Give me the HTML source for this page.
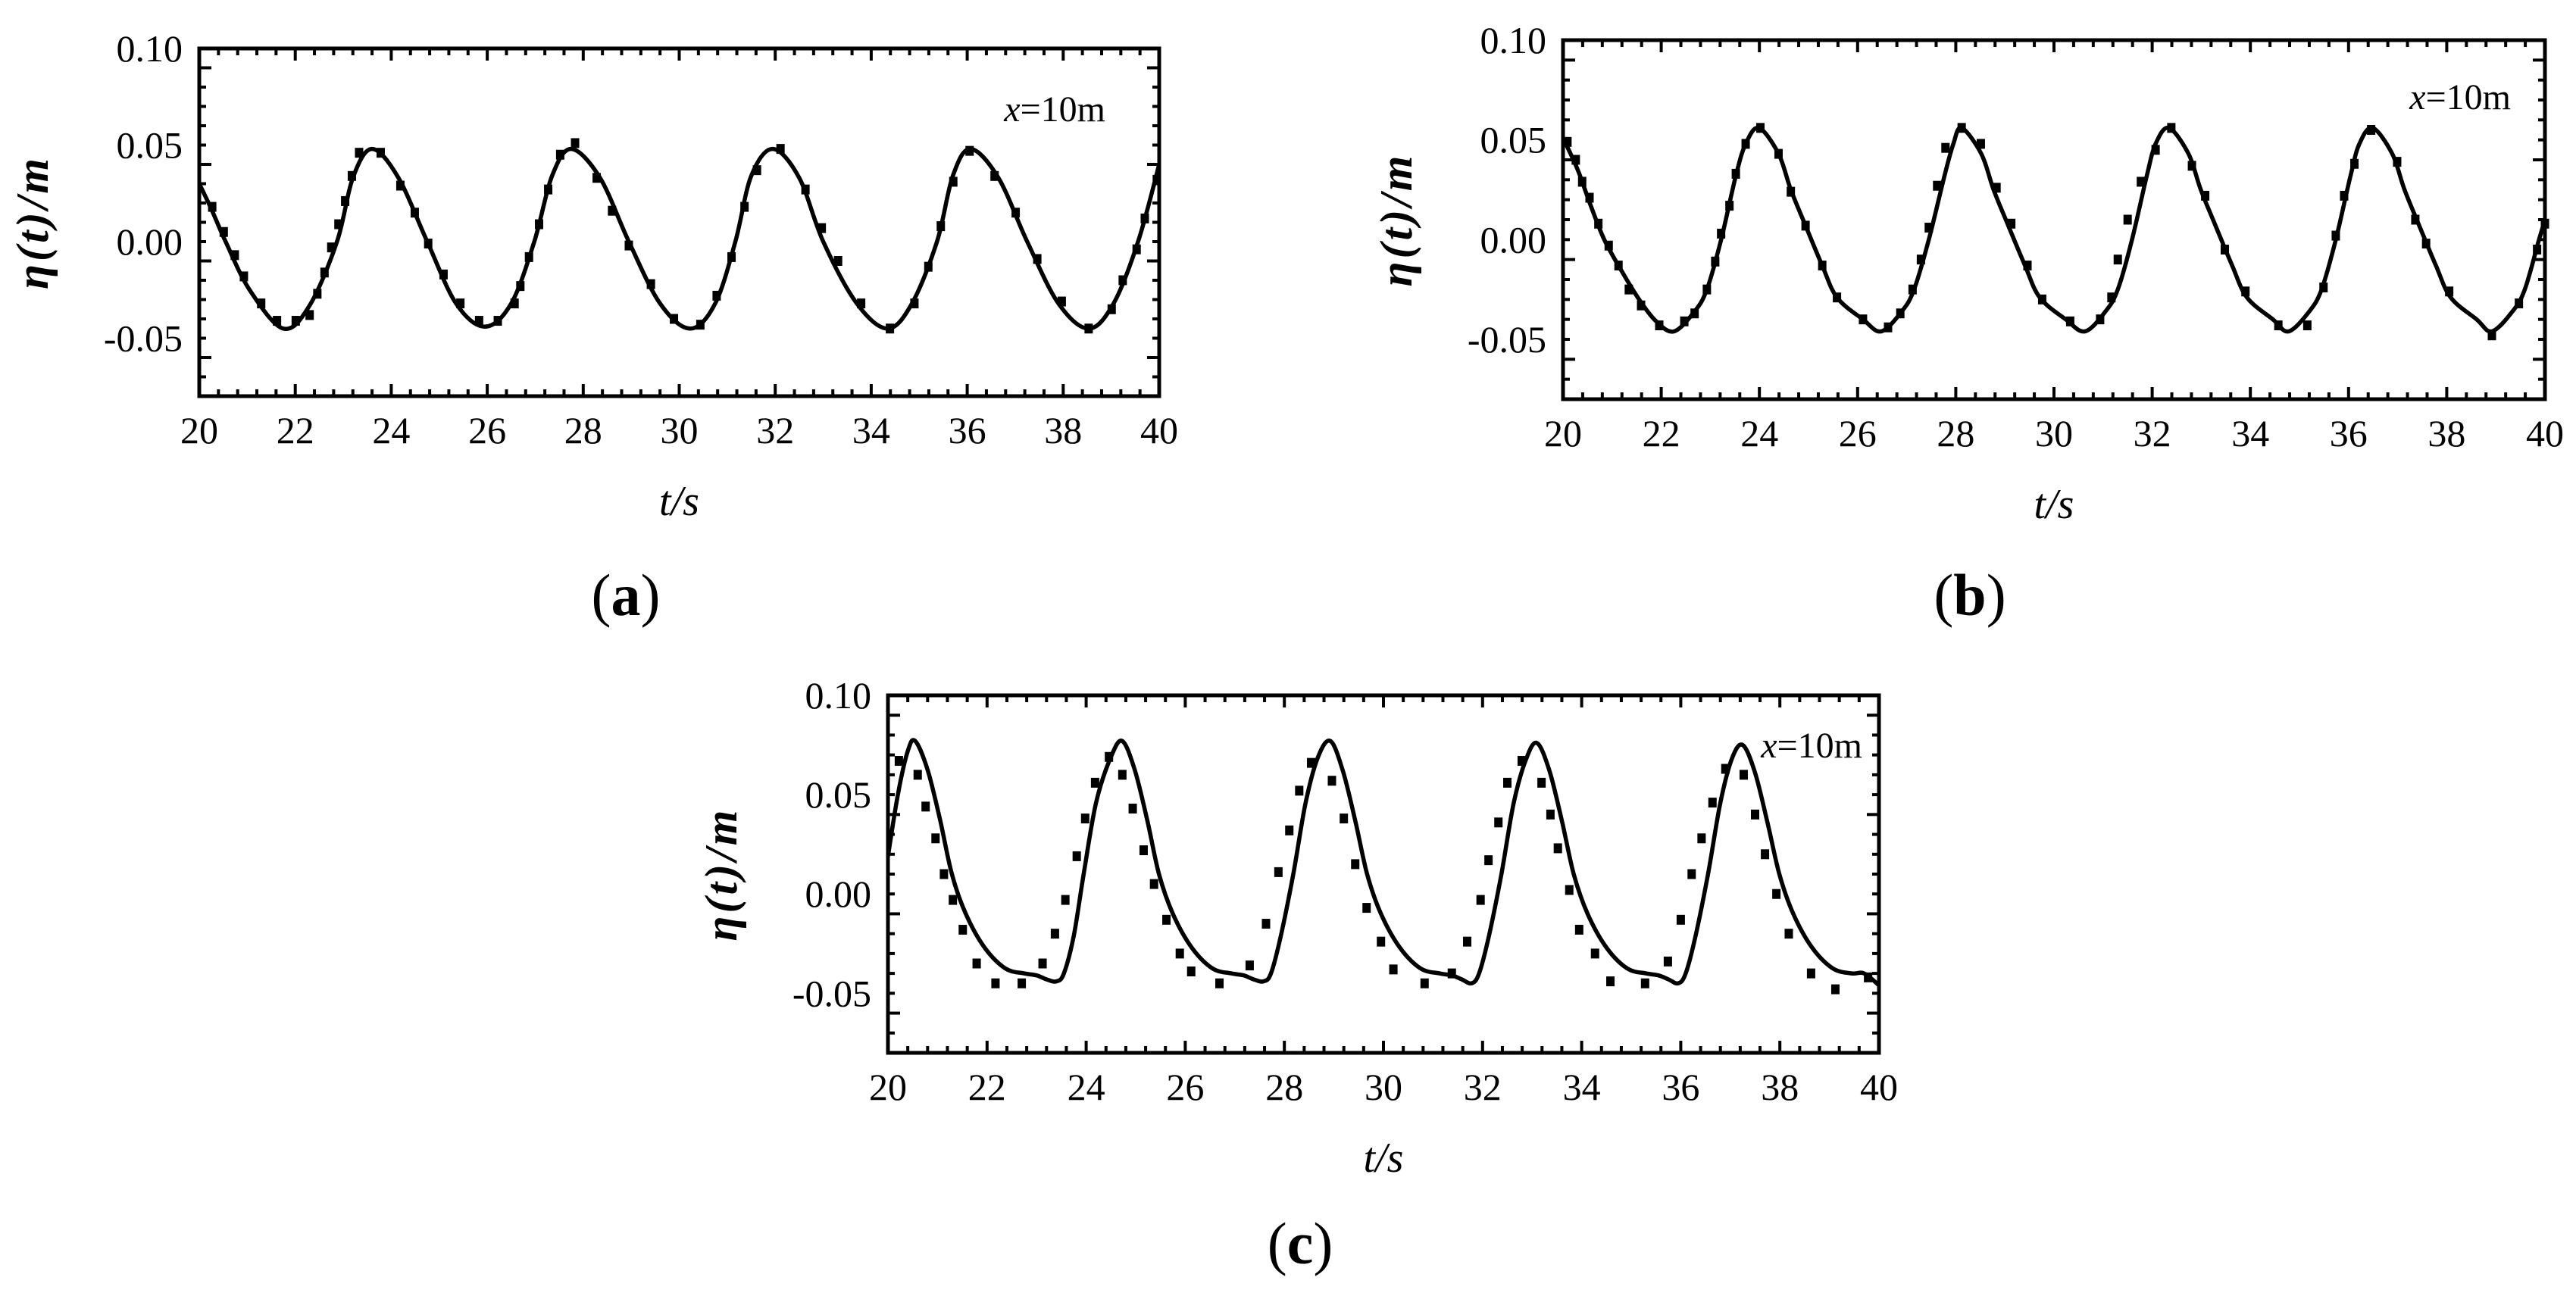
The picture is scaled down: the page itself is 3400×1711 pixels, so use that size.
<!DOCTYPE html>
<html><head><meta charset="utf-8">
<style>
html,body{margin:0;padding:0;background:#fff;}
svg{display:block;}
text{font-family:"Liberation Serif","DejaVu Serif",serif;fill:#000;}
</style></head>
<body>
<svg id="fig" width="3400" height="1711" viewBox="0 0 3400 1711" xmlns="http://www.w3.org/2000/svg"></svg>
<script>
// ---------- data ----------
const xTicks = [20,22,24,26,28,30,32,34,36,38,40];
const yTicks = [0.10,0.05,0.00,-0.05];
const yTickLabels = ["0.10","0.05","0.00","-0.05"];

// panel (a)
const aLineT = [20.0,20.25,20.55,21.05,21.75,22.3,22.87,23.2,23.6,24.15,24.75,25.35,25.95,26.5,26.98,27.35,27.75,28.35,28.95,29.6,30.23,30.75,31.17,31.5,31.95,32.5,33.0,33.7,34.34,34.85,35.37,35.7,36.07,36.65,37.25,37.9,38.53,39.05,39.56,40.0];
const aLineV = [0.030,0.017,0.0,-0.025,-0.045,-0.033,0.0,0.033,0.048,0.033,0.0,-0.032,-0.044,-0.032,0.0,0.034,0.048,0.033,0.0,-0.032,-0.045,-0.032,0.0,0.034,0.048,0.033,0.0,-0.032,-0.045,-0.032,0.0,0.034,0.048,0.033,0.0,-0.032,-0.045,-0.032,0.0,0.040];
const aMarkT = [20.27,20.51,20.74,20.93,21.29,21.62,22.01,22.30,22.46,22.61,22.75,22.90,23.04,23.18,23.33,23.78,24.19,24.49,24.77,25.09,25.44,25.83,26.22,26.57,26.69,26.87,27.08,27.27,27.52,27.83,28.28,28.60,28.95,29.41,29.89,30.44,30.78,31.09,31.36,31.62,32.11,32.63,32.97,33.31,33.79,34.39,34.90,35.19,35.45,35.71,36.05,36.57,37.01,37.46,37.97,38.53,39.01,39.24,39.53,39.70,39.95];
const aMarkV = [0.018,0.005,-0.007,-0.018,-0.032,-0.041,-0.041,-0.038,-0.027,-0.016,-0.003,0.009,0.021,0.034,0.046,0.046,0.029,0.015,-0.001,-0.017,-0.032,-0.041,-0.041,-0.032,-0.023,-0.008,0.009,0.027,0.045,0.051,0.033,0.016,-0.002,-0.022,-0.040,-0.043,-0.028,-0.008,0.018,0.037,0.048,0.027,0.007,-0.010,-0.032,-0.045,-0.032,-0.013,0.008,0.031,0.047,0.034,0.015,-0.009,-0.031,-0.045,-0.035,-0.020,-0.004,0.012,0.032];

// panel (b)
const bLineT = [20.0,20.3,20.55,20.84,21.2,21.55,21.9,22.26,22.68,22.93,23.22,23.52,23.72,23.99,24.39,24.64,24.94,25.28,25.58,26.11,26.48,26.9,27.15,27.45,27.77,27.95,28.12,28.52,28.77,29.07,29.41,29.71,30.24,30.63,31.05,31.3,31.59,31.89,32.07,32.34,32.74,32.99,33.29,33.63,33.93,34.46,34.78,35.2,35.45,35.74,36.04,36.22,36.49,36.89,37.14,37.44,37.78,38.08,38.61,38.92,39.34,39.59,39.88,40.0];
const bLineV = [0.051,0.035,0.018,0.0,-0.016,-0.030,-0.041,-0.046,-0.036,-0.025,0.0,0.032,0.048,0.056,0.043,0.025,0.007,-0.013,-0.029,-0.040,-0.046,-0.036,-0.025,0.0,0.032,0.048,0.056,0.043,0.025,0.007,-0.013,-0.029,-0.040,-0.046,-0.036,-0.025,0.0,0.032,0.048,0.056,0.043,0.025,0.007,-0.013,-0.029,-0.040,-0.046,-0.036,-0.025,0.0,0.032,0.048,0.056,0.043,0.025,0.007,-0.013,-0.029,-0.040,-0.046,-0.036,-0.025,0.0,0.010];
const bMarkT = [20.09,20.26,20.39,20.54,20.72,20.93,21.13,21.34,21.59,21.96,22.47,22.68,22.93,23.10,23.22,23.39,23.52,23.72,24.02,24.39,24.64,24.94,25.28,25.58,26.11,26.62,26.87,27.12,27.29,27.45,27.62,27.79,28.12,28.51,28.83,29.13,29.46,29.76,30.33,30.94,31.17,31.30,31.50,31.77,32.07,32.39,32.81,33.08,33.48,33.90,34.57,35.16,35.49,35.74,35.91,36.12,36.46,36.99,37.36,37.58,38.05,38.92,39.47,39.84,40.0];
const bMarkV = [0.049,0.040,0.029,0.021,0.008,-0.003,-0.013,-0.025,-0.033,-0.043,-0.041,-0.037,-0.025,-0.011,0.003,0.017,0.033,0.048,0.056,0.043,0.024,0.007,-0.013,-0.029,-0.040,-0.044,-0.037,-0.025,-0.010,0.006,0.027,0.046,0.056,0.048,0.026,0.008,-0.013,-0.030,-0.041,-0.040,-0.029,-0.010,0.010,0.029,0.045,0.056,0.037,0.022,-0.005,-0.026,-0.043,-0.043,-0.024,0.002,0.022,0.038,0.055,0.039,0.010,-0.002,-0.026,-0.048,-0.032,-0.005,0.008];

// panel (c)
const cLineT = [20.0,20.2,20.4,20.55,20.8,21.05,21.29,21.57,21.95,22.37,22.75,23.0,23.2,23.4,23.55,23.75,23.95,24.2,24.5,24.73,24.98,25.23,25.47,25.75,26.13,26.55,26.93,27.18,27.38,27.58,27.73,27.93,28.18,28.43,28.68,28.93,29.18,29.43,29.67,29.95,30.33,30.75,31.13,31.38,31.58,31.78,31.93,32.13,32.38,32.63,32.88,33.1,33.35,33.6,33.84,34.12,34.5,34.92,35.3,35.55,35.75,35.95,36.1,36.3,36.55,36.8,37.03,37.25,37.5,37.75,37.99,38.27,38.65,39.07,39.45,39.7,40.0];
const cLineV = [0.019,0.050,0.072,0.077,0.0625,0.0375,0.010,-0.010,-0.027,-0.0375,-0.040,-0.041,-0.043,-0.044,-0.040,-0.021,0.010,0.046,0.069,0.077,0.0625,0.0375,0.010,-0.010,-0.027,-0.0375,-0.040,-0.041,-0.043,-0.044,-0.040,-0.021,0.010,0.046,0.069,0.077,0.062,0.037,0.010,-0.010,-0.027,-0.0375,-0.040,-0.041,-0.043,-0.045,-0.040,-0.021,0.010,0.046,0.068,0.076,0.062,0.037,0.010,-0.010,-0.027,-0.0375,-0.040,-0.041,-0.043,-0.045,-0.040,-0.021,0.010,0.046,0.068,0.075,0.061,0.036,0.010,-0.010,-0.027,-0.0375,-0.040,-0.040,-0.046];
const cMarkT = [20.22,20.60,20.76,20.96,21.13,21.31,21.51,21.79,22.17,22.70,23.12,23.37,23.58,23.81,23.98,24.18,24.46,24.73,24.94,25.16,25.37,25.62,25.89,26.12,26.69,27.30,27.63,27.88,28.10,28.30,28.54,28.96,29.20,29.43,29.66,29.95,30.20,30.83,31.38,31.69,31.96,32.12,32.32,32.50,32.79,33.19,33.37,33.52,33.75,33.95,34.27,34.58,35.28,35.74,36.00,36.22,36.42,36.64,36.90,37.27,37.50,37.70,37.93,38.18,38.63,39.12,39.78];
const cMarkV = [0.067,0.060,0.044,0.028,0.010,-0.003,-0.018,-0.035,-0.045,-0.045,-0.035,-0.020,-0.003,0.019,0.038,0.056,0.069,0.060,0.043,0.022,0.005,-0.013,-0.030,-0.039,-0.045,-0.036,-0.015,0.011,0.032,0.052,0.066,0.057,0.038,0.015,-0.007,-0.024,-0.038,-0.045,-0.040,-0.024,-0.003,0.017,0.036,0.056,0.067,0.056,0.040,0.023,0.002,-0.018,-0.030,-0.044,-0.045,-0.034,-0.013,0.010,0.028,0.046,0.063,0.060,0.040,0.020,0.000,-0.020,-0.040,-0.048,-0.042];

// ---------- drawing ----------
const NS = "http://www.w3.org/2000/svg";
const fig = document.getElementById('fig');
function mk(tag, attrs, parent){
  const e = document.createElementNS(NS, tag);
  for (const k in attrs) e.setAttribute(k, attrs[k]);
  (parent||fig).appendChild(e);
  return e;
}
function catmull(pts){
  let d = "M" + pts[0][0].toFixed(1) + "," + pts[0][1].toFixed(1);
  for (let i=0;i<pts.length-1;i++){
    const p0=pts[i-1]||pts[i], p1=pts[i], p2=pts[i+1], p3=pts[i+2]||pts[i+1];
    const c1x=p1[0]+(p2[0]-p0[0])/6, c1y=p1[1]+(p2[1]-p0[1])/6;
    const c2x=p2[0]-(p3[0]-p1[0])/6, c2y=p2[1]-(p3[1]-p1[1])/6;
    d += " C"+c1x.toFixed(1)+","+c1y.toFixed(1)+" "+c2x.toFixed(1)+","+c2y.toFixed(1)+" "+p2[0].toFixed(1)+","+p2[1].toFixed(1);
  }
  return d;
}
function panel(id, L, R, T, B, lineT, lineV, markT, markV, ann, label){
  const g = mk('g', {});
  
  
  const xs = t => L + (t-20)/20*(R-L);
  const ys = v => T + (0.10 - v)/0.18*(B-T);
  const cp = mk('clipPath', {id:'clip-'+id}, g);
  mk('rect', {x:L, y:T, width:R-L, height:B-T}, cp);
  for (let k=0;k<=50;k++){
    const t = 20 + k*0.4, x = xs(t), major = (k%5===0), len = major?16:9;
    const tb = mk('line', {x1:x, y1:B, x2:x, y2:B-len, stroke:'#000', 'stroke-width':4}, g);
    
    
    const tt = mk('line', {x1:x, y1:T, x2:x, y2:T+len, stroke:'#000', 'stroke-width':4}, g);
    
    
  }
  for (let k=0;k<=18;k++){
    const v = -0.08 + k*0.01, y = ys(v), major = ((k+3)%5===0), len = major?16:9;
    const tl = mk('line', {x1:L, y1:y, x2:L+len, y2:y, stroke:'#000', 'stroke-width':4}, g);
    
    
    const tr = mk('line', {x1:R, y1:y, x2:R-len, y2:y, stroke:'#000', 'stroke-width':4}, g);
    
    
  }
  const frame = mk('rect', {x:L, y:T, width:R-L, height:B-T, fill:'none', stroke:'#000', 'stroke-width':5}, g);
  
  
  xTicks.forEach(t => {
    const tx = mk('text', {x:xs(t), y:B+62, 'font-size':50, 'text-anchor':'middle'}, g);
    tx.textContent = String(t);
    
    
  });
  yTicks.forEach((v,i) => {
    const ty = mk('text', {x:L-22, y:ys(v)+17, 'font-size':50, 'text-anchor':'end'}, g);
    ty.textContent = yTickLabels[i];
    
    
  });
  const xt = mk('text', {x:(L+R)/2, y:B+157, 'font-size':56, 'font-style':'italic', 'text-anchor':'middle'}, g);
  xt.textContent = 't/s';
  
  
  const cy = (T+B)/2, cx = L-200;
  const yt = mk('text', {x:cx, y:cy, 'font-size':60, 'font-style':'italic', 'font-weight':'bold', 'letter-spacing':4, 'text-anchor':'middle', transform:'rotate(-90 '+cx+' '+cy+')'}, g);
  yt.textContent = 'η(t)/m';
  
  
  const an = mk('text', {x:ann[0], y:ann[1], 'font-size':48, 'text-anchor':'end'}, g);
  an.innerHTML = '<tspan font-style="italic">x</tspan>=10m';
  
  
  const pts = lineT.map((t,i)=>[xs(t), ys(lineV[i])]);
  const line = mk('path', {d:catmull(pts), fill:'none', stroke:'#000', 'stroke-width':5.5, 'stroke-linejoin':'round', 'clip-path':'url(#clip-'+id+')'}, g);
  
  
  markT.forEach((t,i) => {
    const m = mk('rect', {x:xs(t)-5.5, y:ys(markV[i])-6.5, width:11, height:13, fill:'#000'}, g);
    
    
  });
  const pl = mk('text', {x:label[0], y:label[1], 'font-size':78, 'text-anchor':'middle'}, g);
  pl.innerHTML = '(<tspan font-weight="bold">' + id + '</tspan>)';
  
  
}
panel('a', 263, 1530, 64, 523, aLineT, aLineV, aMarkT, aMarkV, [1459,160], [826,812]);
panel('b', 2063, 3359, 53, 527, bLineT, bLineV, bMarkT, bMarkV, [3314,144], [2600,812]);
panel('c', 1172, 2480, 918, 1390, cLineT, cLineV, cMarkT, cMarkV, [2458,1000], [1716,1668]);
</script>
</body></html>
